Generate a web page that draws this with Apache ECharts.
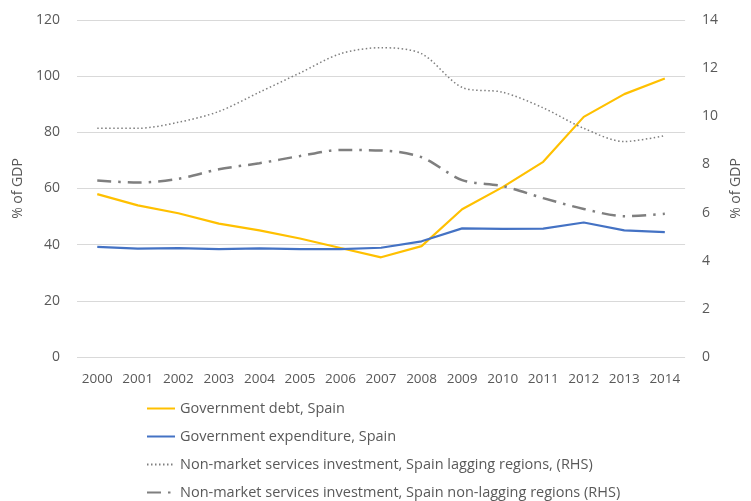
<!DOCTYPE html>
<html>
<head>
<meta charset="utf-8">
<script src="https://cdn.jsdelivr.net/npm/echarts@6/dist/echarts.min.js"></script>
<style>
  html, body { margin: 0; padding: 0; background: #fff; }
  #chart { width: 751px; height: 501px; }
</style>
</head>
<body>
<div id="chart"></div>
<script>
const years = ['2000', '2001', '2002', '2003', '2004', '2005', '2006', '2007',
    '2008', '2009', '2010', '2011', '2012', '2013', '2014'];
// left axis, % of GDP
const govDebt = [58, 54, 51.2, 47.5, 45.1, 42.2, 38.8, 35.5, 39.5, 52.6, 60.5, 69.5, 85.5, 93.6, 99.2];
const govExpenditure = [39.2, 38.6, 38.8, 38.4, 38.7, 38.4, 38.4, 38.9, 41.2, 45.8, 45.6, 45.7, 47.9, 45.1, 44.5];
// right axis, % of GDP
const laggingInv = [9.5, 9.5, 9.75, 10.2, 11.0, 11.8, 12.6, 12.85, 12.6, 11.2, 11.0, 10.35, 9.5, 8.95, 9.2];
const nonLaggingInv = [7.33, 7.25, 7.4, 7.8, 8.05, 8.35, 8.6, 8.58, 8.3, 7.35, 7.1, 6.6, 6.15, 5.85, 5.95];

const textColor = '#595959';
const fontFamily = 'Open Sans, sans-serif';

const myChart = echarts.init(document.getElementById('chart'));
const option = {
    animation: false,
    grid: { left: 77, right: 53, top: 20, bottom: 144 },
    legend: {
        orient: 'vertical',
        left: 146,
        top: 401,
        padding: 0,
        itemWidth: 28,
        itemHeight: 14,
        itemGap: 13,
        itemStyle: { opacity: 0 },
        textStyle: { color: textColor, fontSize: 14.5, fontFamily: fontFamily },
        data: [
            'Government debt, Spain',
            'Government expenditure, Spain',
            'Non-market services investment, Spain lagging regions, (RHS)',
            'Non-market services investment, Spain non-lagging regions (RHS)'
        ]
    },
    xAxis: {
        type: 'category',
        data: years,
        boundaryGap: true,
        axisLine: { show: false },
        axisTick: { show: false },
        axisLabel: { color: textColor, fontSize: 13.5, fontFamily: fontFamily, margin: 15, interval: 0 }
    },
    yAxis: [
        {
            type: 'value',
            min: 0, max: 120, interval: 20,
            name: '% of GDP',
            nameLocation: 'middle',
            nameRotate: 90,
            nameGap: 40,
            nameTextStyle: { color: textColor, fontSize: 14, fontFamily: fontFamily },
            axisLabel: { color: textColor, fontSize: 14, fontFamily: fontFamily, margin: 17 },
            splitLine: { lineStyle: { color: '#d9d9d9', width: 1 } },
            axisLine: { show: false },
            axisTick: { show: false }
        },
        {
            type: 'value',
            position: 'right',
            min: 0, max: 14, interval: 2,
            name: '% of GDP',
            nameLocation: 'middle',
            nameRotate: 90,
            nameGap: 41,
            nameTextStyle: { color: textColor, fontSize: 14, fontFamily: fontFamily },
            axisLabel: { color: textColor, fontSize: 14, fontFamily: fontFamily, margin: 17 },
            splitLine: { show: false },
            axisLine: { show: false },
            axisTick: { show: false }
        }
    ],
    series: [
        {
            name: 'Government debt, Spain',
            type: 'line',
            data: govDebt,
            symbol: 'none',
            itemStyle: { color: '#FFC000' },
            lineStyle: { color: '#FFC000', width: 2.2 }
        },
        {
            name: 'Government expenditure, Spain',
            type: 'line',
            data: govExpenditure,
            symbol: 'none',
            itemStyle: { color: '#4472C4' },
            lineStyle: { color: '#4472C4', width: 2.2 }
        },
        {
            name: 'Non-market services investment, Spain lagging regions, (RHS)',
            type: 'line',
            yAxisIndex: 1,
            data: laggingInv,
            symbol: 'none',
            smooth: 0.3,
            itemStyle: { color: '#7f7f7f' },
            lineStyle: { color: '#7f7f7f', width: 1.5, type: [1.5, 2.5] }
        },
        {
            name: 'Non-market services investment, Spain non-lagging regions (RHS)',
            type: 'line',
            yAxisIndex: 1,
            data: nonLaggingInv,
            symbol: 'none',
            smooth: 0.3,
            itemStyle: { color: '#7f7f7f' },
            lineStyle: { color: '#7f7f7f', width: 2.5, type: [14, 7, 2.5, 7] }
        }
    ]
};
myChart.setOption(option);
</script>
</body>
</html>
